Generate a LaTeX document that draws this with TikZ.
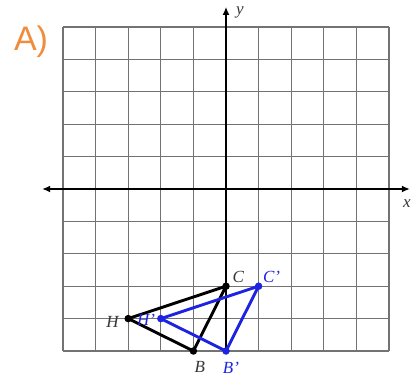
\documentclass[tikz,border=0pt]{standalone}
\usepackage{fontspec}
\setmainfont{Liberation Serif}
\newfontfamily\labelsans{Liberation Sans}
\usetikzlibrary{arrows.meta}
\definecolor{orangeA}{RGB}{240,140,60}
\definecolor{tblue}{RGB}{30,35,225}
\definecolor{gridgray}{RGB}{115,115,115}
\definecolor{txtgray}{RGB}{55,55,55}
\tikzset{
  gridline/.style={draw=gridgray, line width=1.1pt},
  axisline/.style={draw=black, line width=1.5pt},
  tri/.style={line width=2.9pt, line join=round},
  ptdot/.style={circle, inner sep=0pt, minimum size=7.5pt},
  ptlabel/.style={font=\fontsize{17}{17}\selectfont\itshape, inner sep=0pt},
}
\begin{document}
\begin{tikzpicture}[x=1pt,y=-1pt]
\useasboundingbox (0,0) rectangle (412,379);
\node[font=\labelsans\fontsize{34}{34}\selectfont, text=orangeA, inner sep=0pt] (title) at (31,42) {A)};
\begin{scope}[shift={(226,189)}, x=32.6pt, y=32.4pt]
  \draw[gridline, step=1] (-5,-5) grid (5,5);
  \coordinate (xl) at (-5.64,0);
  \coordinate (xr) at (5.64,0);
  \coordinate (yb) at (0,-5);
  \coordinate (yt) at (0,5.62);
  \draw[axisline, {Latex[length=8pt,width=7pt]}-{Latex[length=8pt,width=7pt]}] (xl) -- (xr);
  \draw[axisline, -{Latex[length=8pt,width=7pt]}] (yb) -- (yt);
  \node[ptlabel, text=txtgray] (ylab) at (0.43,5.45) {y};
  \node[ptlabel, text=txtgray] (xlab) at (5.55,-0.45) {x};
  % original triangle
  \coordinate (C) at (0,-3);
  \coordinate (H) at (-3,-4);
  \coordinate (B) at (-1,-5);
  % image triangle
  \coordinate (C') at (1,-3);
  \coordinate (H') at (-2,-4);
  \coordinate (B') at (0,-5);
  \draw[tri, black] (H) -- (C) -- (B) -- cycle;
  \draw[tri, tblue] (H') -- (C') -- (B') -- cycle;
  \foreach \p in {C,H,B} \node[ptdot, fill=black] (dot\p) at (\p) {};
  \node[ptdot, fill=tblue] (dotCp) at (C') {};
  \node[ptdot, fill=tblue] (dotHp) at (H') {};
  \node[ptdot, fill=tblue] (dotBp) at (B') {};
  \node[ptlabel, text=txtgray] (labC) at (0.38,-2.72) {C};
  \node[ptlabel, text=tblue] (labCp) at (1.4,-2.72) {C'};
  \node[ptlabel, text=txtgray] (labH) at (-3.48,-4.1) {H};
  \node[ptlabel, text=tblue] (labHp) at (-2.45,-4.03) {H'};
  \node[ptlabel, text=txtgray] (labB) at (-0.8,-5.5) {B};
  \node[ptlabel, text=tblue] (labBp) at (0.15,-5.52) {B'};
\end{scope}
\end{tikzpicture}
\end{document}
